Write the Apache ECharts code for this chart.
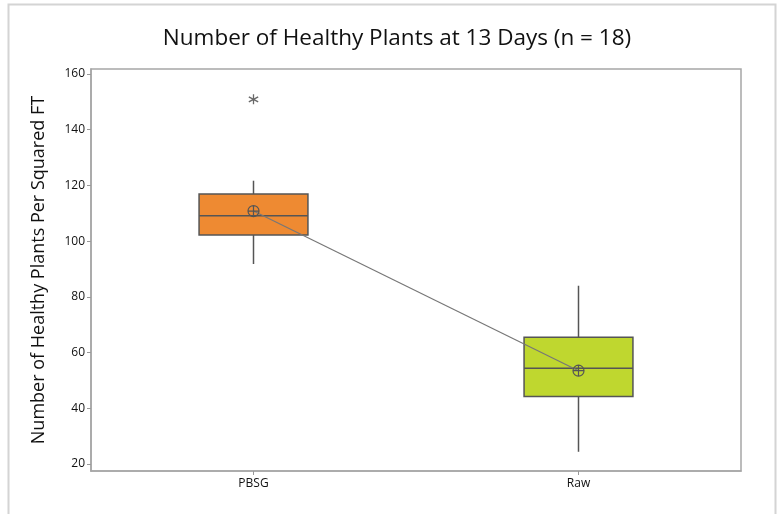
<!DOCTYPE html>
<html>
<head>
<meta charset="utf-8">
<script src="https://cdn.jsdelivr.net/npm/echarts@6/dist/echarts.min.js"></script>
<style>
  html, body { margin: 0; padding: 0; background: #fff; }
  #chart { width: 781px; height: 514px; }
</style>
</head>
<body>
<div id="chart"></div>
<script>
// data
var categories = ['PBSG', 'Raw'];
var whiskerLow = [91.8, 24.4];
var q1 = [102.2, 44.2];
var median = [109.1, 54.4];
var q3 = [116.9, 65.5];
var whiskerHigh = [121.7, 84];
var means = [110.8, 53.5];
var outliers = [[0, 150.9]];
var boxColors = ['#EE8A32', '#BFD72F'];
var yTicks = [20, 40, 60, 80, 100, 120, 140, 160];

var boxData = categories.map(function (c, i) {
  return [i, whiskerLow[i], q1[i], median[i], q3[i], whiskerHigh[i]];
});

var starPath = 'path://M-0.6,-5 L0.6,-5 L0.6,5 L-0.6,5 Z ' +
  'M4.03,-3.02 L4.63,-1.98 L-4.03,3.02 L-4.63,1.98 Z ' +
  'M4.63,1.98 L4.03,3.02 L-4.63,-1.98 L-4.03,-3.02 Z';
var meanPath = 'path://M-5,0 A5,5 0 1,0 5,0 A5,5 0 1,0 -5,0 Z M-5,0 L5,0 M0,-5 L0,5';

var myChart = echarts.init(document.getElementById('chart'));

var option = {
  animation: false,
  backgroundColor: '#fff',
  title: {
    text: 'Number of Healthy Plants at 13 Days (n = 18)',
    left: 392,
    textAlign: 'center',
    top: 22,
    textStyle: {
      fontFamily: 'Open Sans',
      fontWeight: 'normal',
      fontSize: 22.5,
      color: '#111'
    }
  },
  graphic: [
    {
      type: 'rect',
      shape: { x: 8.5, y: 4.5, width: 767, height: 520 },
      style: { fill: 'none', stroke: '#d4d4d4', lineWidth: 2 },
      silent: true
    }
  ],
  grid: {
    left: 91,
    right: 40,
    top: 69,
    bottom: 43,
    show: true,
    borderColor: '#a6a6a6',
    borderWidth: 1.5,
    backgroundColor: '#fff'
  },
  xAxis: {
    type: 'category',
    data: categories,
    boundaryGap: true,
    axisLine: { show: true, lineStyle: { color: '#a6a6a6', width: 1.5 } },
    axisTick: { show: true, alignWithLabel: true, length: 4, lineStyle: { color: '#999' } },
    axisLabel: { fontFamily: 'Open Sans', fontSize: 12, color: '#111', margin: 7 },
    splitLine: { show: false }
  },
  yAxis: {
    type: 'value',
    min: 17.5,
    max: 161.8,
    name: 'Number of Healthy Plants Per Squared FT',
    nameLocation: 'middle',
    nameGap: 43,
    nameTextStyle: { fontFamily: 'Open Sans', fontSize: 18, color: '#111' },
    axisLine: { show: true, lineStyle: { color: '#a6a6a6', width: 1.5 } },
    axisTick: { show: true, length: 4, customValues: yTicks, lineStyle: { color: '#999' } },
    axisLabel: { fontFamily: 'Open Sans', fontSize: 12, color: '#111', margin: 6, customValues: yTicks },
    splitLine: { show: false }
  },
  series: [
    {
      type: 'custom',
      data: boxData,
      z: 2,
      renderItem: function (params, api) {
        var i = api.value(0);
        var low = api.coord([i, api.value(1)]);
        var lo = api.coord([i, api.value(2)]);
        var med = api.coord([i, api.value(3)]);
        var hi = api.coord([i, api.value(4)]);
        var high = api.coord([i, api.value(5)]);
        var w = api.size([1, 0])[0] * 0.335;
        var x0 = lo[0] - w / 2;
        var stroke = { stroke: '#555', lineWidth: 1.5 };
        return {
          type: 'group',
          children: [
            { type: 'line', shape: { x1: hi[0], y1: hi[1], x2: high[0], y2: high[1] }, style: stroke },
            { type: 'line', shape: { x1: lo[0], y1: lo[1], x2: low[0], y2: low[1] }, style: stroke },
            {
              type: 'rect',
              shape: { x: x0, y: hi[1], width: w, height: lo[1] - hi[1] },
              style: { fill: boxColors[params.dataIndex], stroke: '#555', lineWidth: 1.5 }
            },
            { type: 'line', shape: { x1: x0, y1: med[1], x2: x0 + w, y2: med[1] }, style: stroke }
          ]
        };
      }
    },
    {
      type: 'line',
      data: means,
      z: 3,
      symbol: meanPath,
      symbolSize: 11,
      showAllSymbol: true,
      lineStyle: { color: '#777', width: 1.2 },
      itemStyle: { color: 'transparent', borderColor: '#555', borderWidth: 1.2 }
    },
    {
      type: 'scatter',
      data: outliers,
      z: 3,
      symbol: starPath,
      symbolSize: 10,
      itemStyle: { color: '#444' }
    }
  ]
};

myChart.setOption(option);
</script>
</body>
</html>
